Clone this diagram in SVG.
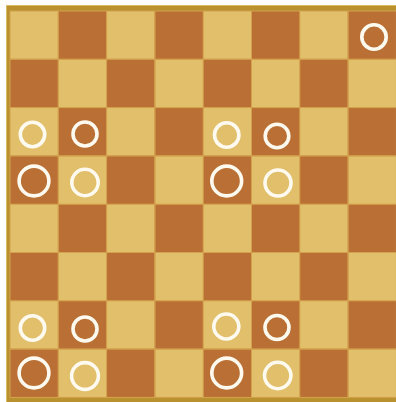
<svg xmlns="http://www.w3.org/2000/svg" width="396" height="402" viewBox="0 0 396 402">
<defs>
<style>
.l{fill:#e1bf6b}
.d{fill:#ba6f34}
.g{stroke:#d4a24e;stroke-width:1;fill:none}
.p{fill:none;stroke:#fffaf0;stroke-width:3.6}
</style>
<pattern id="board" x="10" y="11" width="96.6" height="96.6" patternUnits="userSpaceOnUse">
<rect class="l" x="0" y="0" width="48.3" height="48.3"/>
<rect class="d" x="48.3" y="0" width="48.3" height="48.3"/>
<rect class="d" x="0" y="48.3" width="48.3" height="48.3"/>
<rect class="l" x="48.3" y="48.3" width="48.3" height="48.3"/>
</pattern>
</defs>
<rect width="396" height="402" fill="#ffffff"/>
<g id="frame">
<rect x="6" y="5" width="392" height="399" fill="#b9912f"/>
<rect x="6.5" y="5.5" width="391" height="398" fill="none" stroke="#d9bb62" stroke-width="1"/>
</g>
<g id="board-squares">
<rect x="10" y="11" width="386.4" height="386.4" fill="url(#board)"/>
<path class="g" d="M58.3 11V397.4M106.6 11V397.4M154.9 11V397.4M203.2 11V397.4M251.5 11V397.4M299.8 11V397.4M348.1 11V397.4M10 59.3H396.4M10 107.6H396.4M10 155.9H396.4M10 204.2H396.4M10 252.5H396.4M10 300.8H396.4M10 349.1H396.4"/>
<rect class="g" x="10" y="11" width="386.4" height="386.4"/>
</g>
<g id="pieces">
<circle class="p" cx="374" cy="37" r="12.2"/>
<circle class="p" cx="32.5" cy="134.5" r="12.2"/>
<circle class="p" cx="85" cy="134" r="12"/>
<circle class="p" cx="226.7" cy="135" r="12.2"/>
<circle class="p" cx="277" cy="136" r="11.8"/>
<circle class="p" cx="34" cy="181" r="14.9"/>
<circle class="p" cx="85" cy="182.5" r="13.2"/>
<circle class="p" cx="226.7" cy="181" r="14.9"/>
<circle class="p" cx="278" cy="183" r="13"/>
<circle class="p" cx="32.5" cy="328" r="12.2"/>
<circle class="p" cx="85" cy="329" r="12"/>
<circle class="p" cx="226.3" cy="326.5" r="12.5"/>
<circle class="p" cx="277" cy="327.5" r="12"/>
<circle class="p" cx="34" cy="373" r="14.9"/>
<circle class="p" cx="85" cy="376" r="13.4"/>
<circle class="p" cx="226.7" cy="373" r="14.9"/>
<circle class="p" cx="277.7" cy="375.5" r="13.2"/>
</g>
</svg>
